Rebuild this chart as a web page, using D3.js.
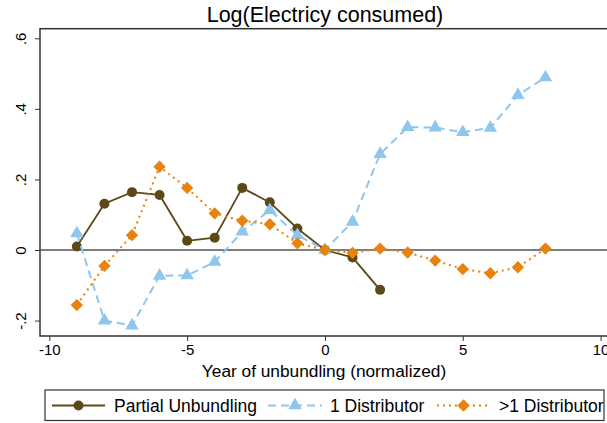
<!DOCTYPE html>
<html>
<head>
<meta charset="utf-8">
<script src="https://cdn.jsdelivr.net/npm/d3@7"></script>
<style>
  html, body { margin: 0; padding: 0; background: #fff; }
  svg { display: block; font-family: "Liberation Sans", Arial, Helvetica, sans-serif; }
</style>
</head>
<body>
<svg id="chart" width="607" height="423"></svg>
<script>
// Event-study coefficients by year relative to unbundling
const yearsPartial = [-9, -8, -7, -6, -5, -4, -3, -2, -1, 0, 1, 2];
const partialUnbundling = [0.010, 0.131, 0.164, 0.156, 0.026, 0.035, 0.176, 0.135, 0.061, 0.000, -0.021, -0.113];

const yearsDist = [-9, -8, -7, -6, -5, -4, -3, -2, -1, 0, 1, 2, 3, 4, 5, 6, 7, 8];
const oneDistributor = [0.047, -0.200, -0.214, -0.073, -0.072, -0.034, 0.052, 0.113, 0.042, 0.000, 0.080, 0.272, 0.348, 0.347, 0.334, 0.346, 0.439, 0.489];
const multiDistributor = [-0.156, -0.045, 0.042, 0.236, 0.176, 0.104, 0.083, 0.073, 0.019, 0.000, -0.008, 0.004, -0.007, -0.030, -0.054, -0.066, -0.049, 0.004];

const xTicks = [-10, -5, 0, 5, 10];
const yTicks = [-0.2, 0, 0.2, 0.4, 0.6];
const yTickLabels = ["-.2", "0", ".2", ".4", ".6"];

const seriesNames = ["Partial Unbundling", "1 Distributor", ">1 Distributor"];

const svg = d3.select("#chart");

const plot = { left: 40, top: 28.7, right: 620, bottom: 336 };

const x = d3.scaleLinear().domain([-10, 10]).range([49.3, 600.6]);
const y = d3.scaleLinear().domain([0, 0.6]).range([250, 38.3]);

const frameColor = "#333";

// Title
svg.append("text")
  .attr("x", 325).attr("y", 22)
  .attr("text-anchor", "middle")
  .attr("font-size", 21.5)
  .attr("fill", "#000")
  .text("Log(Electricy consumed)");

// Plot region frame
svg.append("rect")
  .attr("x", plot.left).attr("y", plot.top)
  .attr("width", plot.right - plot.left).attr("height", plot.bottom - plot.top)
  .attr("fill", "none").attr("stroke", frameColor).attr("stroke-width", 1.5);

// Zero reference line
svg.append("line")
  .attr("x1", plot.left).attr("x2", plot.right)
  .attr("y1", y(0)).attr("y2", y(0))
  .attr("stroke", "#555").attr("stroke-width", 1.3);

// X axis
const xAxis = d3.axisBottom(x).tickValues(xTicks).tickSize(5).tickSizeOuter(0).tickPadding(3);
const gx = svg.append("g").attr("transform", `translate(0,${plot.bottom})`).call(xAxis);
gx.select(".domain").remove();
gx.selectAll(".tick line").attr("stroke", frameColor).attr("stroke-width", 1);
gx.selectAll(".tick text").attr("font-size", 15).attr("fill", "#000")
  .attr("font-family", "Liberation Sans, Arial, sans-serif")
  .text(d => d < 0 ? "-" + Math.abs(d) : d);

// Y axis with rotated labels
const yAxis = d3.axisLeft(y).tickValues(yTicks).tickSize(5).tickSizeOuter(0)
  .tickFormat((d, i) => yTickLabels[i]);
const gy = svg.append("g").attr("transform", `translate(${plot.left},0)`).call(yAxis);
gy.select(".domain").remove();
gy.selectAll(".tick line").attr("stroke", frameColor).attr("stroke-width", 1);
gy.selectAll(".tick text")
  .attr("font-size", 15).attr("fill", "#000")
  .attr("font-family", "Liberation Sans, Arial, sans-serif")
  .attr("x", null).attr("dy", null)
  .attr("text-anchor", "middle")
  .attr("transform", "translate(-14.5,0) rotate(-90)")
  .attr("y", 0);

// X axis title
svg.append("text")
  .attr("x", 324).attr("y", 377)
  .attr("text-anchor", "middle")
  .attr("font-size", 17.3)
  .attr("fill", "#000")
  .text("Year of unbundling (normalized)");

const colors = ["#5d4818", "#8ec6ee", "#e9820e"];
const dashes = [null, "8,5", "2,4"];

const line = d3.line().x(d => x(d[0])).y(d => y(d[1]));

function pairs(xs, ys) { return xs.map((v, i) => [v, ys[i]]); }

const series = [
  pairs(yearsPartial, partialUnbundling),
  pairs(yearsDist, oneDistributor),
  pairs(yearsDist, multiDistributor)
];

const triangle = d3.symbol().type(d3.symbolTriangle).size(78);
const diamond = d3.symbol().type(d3.symbolSquare).size(76);

function drawMarker(g, k, cx, cy) {
  if (k === 0) {
    g.append("circle").attr("cx", cx).attr("cy", cy).attr("r", 5).attr("fill", colors[0]);
  } else if (k === 1) {
    g.append("path").attr("d", triangle()).attr("transform", `translate(${cx},${cy})`).attr("fill", colors[1]);
  } else {
    g.append("path").attr("d", diamond()).attr("transform", `translate(${cx},${cy}) rotate(45)`).attr("fill", colors[2]);
  }
}

// Draw series in order: partial, 1 distributor, >1 distributor
series.forEach((data, k) => {
  const g = svg.append("g");
  g.append("path")
    .datum(data)
    .attr("d", line)
    .attr("fill", "none")
    .attr("stroke", colors[k])
    .attr("stroke-width", k === 0 ? 1.8 : 2)
    .attr("stroke-dasharray", dashes[k]);
  data.forEach(d => drawMarker(g, k, x(d[0]), y(d[1])));
});

// Legend
const legend = svg.append("g");
legend.append("rect")
  .attr("x", 45).attr("y", 390).attr("width", 559).attr("height", 30.5)
  .attr("fill", "#fff").attr("stroke", frameColor).attr("stroke-width", 1.2);

const legendItems = [
  { x1: 52, x2: 105, tx: 114 },
  { x1: 268, x2: 322, tx: 330 },
  { x1: 437, x2: 490, tx: 499 }
];
legendItems.forEach((it, k) => {
  const ly = 405.5;
  legend.append("line")
    .attr("x1", it.x1).attr("x2", it.x2).attr("y1", ly).attr("y2", ly)
    .attr("stroke", colors[k]).attr("stroke-width", k === 0 ? 1.8 : 2)
    .attr("stroke-dasharray", dashes[k]);
  drawMarker(legend, k, (it.x1 + it.x2) / 2, ly);
  legend.append("text")
    .attr("x", it.tx).attr("y", ly + 6.3)
    .attr("font-size", 17.5).attr("fill", "#000")
    .text(seriesNames[k]);
});
</script>
</body>
</html>
